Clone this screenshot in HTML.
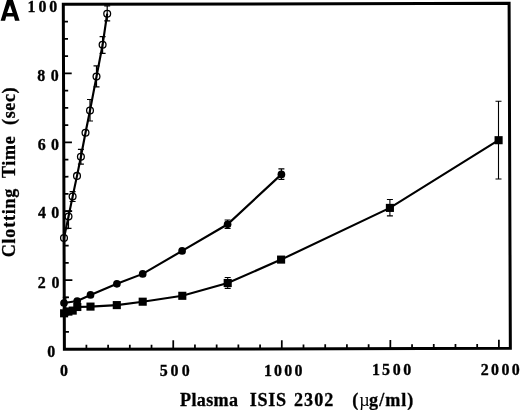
<!DOCTYPE html>
<html><head><meta charset="utf-8"><style>
html,body{margin:0;padding:0;background:#fff;}
body{width:520px;height:410px;overflow:hidden;}
svg{display:block;will-change:transform;}
.d{font-family:"Liberation Serif",serif;font-weight:bold;font-size:16.8px;fill:#000;stroke:#000;stroke-width:0.35px;}
.t{font-family:"Liberation Serif",serif;font-weight:bold;font-size:18.1px;fill:#000;stroke:#000;stroke-width:0.3px;}
.tr{font-family:"Liberation Serif",serif;font-weight:normal;font-size:18.1px;fill:#000;}
</style></head><body>
<svg width="520" height="410" viewBox="0 0 520 410">

<path d="M0.6,20.7 L7.3,-1 L12.6,-1 L19.6,20.7 L15.0,20.7 L13.9,16.4 L6.2,16.4 L5.1,20.7 Z M7.1,13.0 L12.7,13.0 L10.0,4.9 Z" fill="#000" fill-rule="evenodd"/>
<path d="M63.3,4.35 L509.1,3.3 L510.35,348.35 L64.4,349.3 Z" fill="none" stroke="#000" stroke-width="3" stroke-linejoin="miter"/>
<path d="M64.34,331.77l4.6,-0.011 M64.29,314.55l4.6,-0.011 M64.23,297.32l4.6,-0.011 M64.18,280.10l8.2,-0.020 M64.12,262.88l4.6,-0.011 M64.07,245.65l4.6,-0.011 M64.01,228.43l4.6,-0.011 M63.96,211.20l8.2,-0.020 M63.90,193.97l4.6,-0.011 M63.85,176.75l4.6,-0.011 M63.79,159.53l4.6,-0.011 M63.74,142.30l8.2,-0.020 M63.68,125.08l4.6,-0.011 M63.63,107.85l4.6,-0.011 M63.58,90.62l4.6,-0.011 M63.52,73.40l8.2,-0.020 M63.47,56.18l4.6,-0.011 M63.41,38.95l4.6,-0.011 M63.36,21.73l4.6,-0.011 M86.39,349.25l0.013,-4.4 M108.10,349.21l0.013,-4.4 M129.81,349.16l0.013,-4.4 M151.52,349.11l0.013,-4.4 M173.23,349.07l0.026,-8.7 M194.94,349.02l0.013,-4.4 M216.65,348.98l0.013,-4.4 M238.36,348.93l0.013,-4.4 M260.07,348.88l0.013,-4.4 M281.78,348.84l0.026,-8.7 M303.49,348.79l0.013,-4.4 M325.20,348.74l0.013,-4.4 M346.91,348.70l0.013,-4.4 M368.62,348.65l0.013,-4.4 M390.33,348.61l0.026,-8.7 M412.04,348.56l0.013,-4.4 M433.75,348.51l0.013,-4.4 M455.46,348.47l0.013,-4.4 M477.17,348.42l0.013,-4.4 M498.88,348.37l0.026,-8.7" stroke="#000" stroke-width="1.75" fill="none"/>
<text x="0" y="0" transform="translate(27.62,12.00) scale(0.95,1)" class="d">1</text>
<text x="0" y="0" transform="translate(38.49,12.00) scale(0.95,1)" class="d">0</text>
<text x="0" y="0" transform="translate(49.29,12.00) scale(0.95,1)" class="d">0</text>
<text x="0" y="0" transform="translate(37.27,81.00) scale(0.95,1)" class="d">8</text>
<text x="0" y="0" transform="translate(50.69,81.00) scale(0.95,1)" class="d">0</text>
<text x="0" y="0" transform="translate(37.65,150.10) scale(0.95,1)" class="d">6</text>
<text x="0" y="0" transform="translate(51.09,150.10) scale(0.95,1)" class="d">0</text>
<text x="0" y="0" transform="translate(37.98,218.40) scale(0.95,1)" class="d">4</text>
<text x="0" y="0" transform="translate(51.19,218.40) scale(0.95,1)" class="d">0</text>
<text x="0" y="0" transform="translate(37.83,287.80) scale(0.95,1)" class="d">2</text>
<text x="0" y="0" transform="translate(51.49,287.80) scale(0.95,1)" class="d">0</text>
<text x="0" y="0" transform="translate(47.29,356.90) scale(0.95,1)" class="d">0</text>
<text x="0" y="0" transform="translate(59.99,375.90) scale(0.95,1)" class="d">0</text>
<text x="0" y="0" transform="translate(159.76,375.60) scale(0.95,1)" class="d">5</text>
<text x="0" y="0" transform="translate(170.59,375.60) scale(0.95,1)" class="d">0</text>
<text x="0" y="0" transform="translate(181.69,375.60) scale(0.95,1)" class="d">0</text>
<text x="0" y="0" transform="translate(264.12,375.50) scale(0.95,1)" class="d">1</text>
<text x="0" y="0" transform="translate(274.09,375.50) scale(0.95,1)" class="d">0</text>
<text x="0" y="0" transform="translate(284.19,375.50) scale(0.95,1)" class="d">0</text>
<text x="0" y="0" transform="translate(294.39,375.50) scale(0.95,1)" class="d">0</text>
<text x="0" y="0" transform="translate(372.12,375.30) scale(0.95,1)" class="d">1</text>
<text x="0" y="0" transform="translate(382.06,375.30) scale(0.95,1)" class="d">5</text>
<text x="0" y="0" transform="translate(392.69,375.30) scale(0.95,1)" class="d">0</text>
<text x="0" y="0" transform="translate(403.19,375.30) scale(0.95,1)" class="d">0</text>
<text x="0" y="0" transform="translate(480.83,375.20) scale(0.95,1)" class="d">2</text>
<text x="0" y="0" transform="translate(491.09,375.20) scale(0.95,1)" class="d">0</text>
<text x="0" y="0" transform="translate(501.59,375.20) scale(0.95,1)" class="d">0</text>
<text x="0" y="0" transform="translate(511.79,375.20) scale(0.95,1)" class="d">0</text>
<text x="180.09" y="405.60" class="t" letter-spacing="0.335">Plasma</text>
<text x="249.79" y="405.60" class="t" letter-spacing="0.686">ISIS</text>
<text x="294.04" y="405.60" class="t" letter-spacing="1.013">2302</text>
<text x="352.20" y="405.60" class="t">(</text>
<text x="359.29" y="405.60" class="tr">µ</text>
<text x="369.12" y="405.60" class="t" letter-spacing="0.990">g/ml)</text>
<g transform="translate(14.5,0) rotate(-90)">
<text x="-257.28" y="0.00" class="t" letter-spacing="0.759">Clotting</text>
<text x="-178.08" y="0.00" class="t" letter-spacing="0.646">Time</text>
<text x="-125.00" y="0.00" class="t" letter-spacing="0.606">(sec)</text>
</g>
<polyline points="64.0,238.0 68.5,216.6 72.6,196.6 77,175.9 80.9,156.7 85.5,132.7 90,110.5 96.5,76.6 102.6,44.8 107.2,13.7" fill="none" stroke="#000" stroke-width="2.15"/>
<path d="M107.2,5.9V20.8 M104.2,5.9h6 M104.2,20.8h6 M102.6,36.6V53.4 M99.6,36.6h6 M99.6,53.4h6 M96.5,65.9V86.8 M93.5,65.9h6 M93.5,86.8h6 M90,99.5V121 M87.0,99.5h6 M87.0,121h6 M80.9,149.3V164.1 M77.9,149.3h6 M77.9,164.1h6 M72.6,191.7V201.5 M69.6,191.7h6 M69.6,201.5h6 M68.5,211.2V228.3 M65.5,211.2h6 M65.5,228.3h6" stroke="#000" stroke-width="1.2" fill="none"/>
<circle cx="64.0" cy="238.0" r="3.4" fill="none" stroke="#000" stroke-width="1.3"/>
<circle cx="68.5" cy="216.6" r="3.4" fill="none" stroke="#000" stroke-width="1.3"/>
<circle cx="72.6" cy="196.6" r="3.4" fill="none" stroke="#000" stroke-width="1.3"/>
<circle cx="77" cy="175.9" r="3.4" fill="none" stroke="#000" stroke-width="1.3"/>
<circle cx="80.9" cy="156.7" r="3.4" fill="none" stroke="#000" stroke-width="1.3"/>
<circle cx="85.5" cy="132.7" r="3.4" fill="none" stroke="#000" stroke-width="1.3"/>
<circle cx="90" cy="110.5" r="3.4" fill="none" stroke="#000" stroke-width="1.3"/>
<circle cx="96.5" cy="76.6" r="3.4" fill="none" stroke="#000" stroke-width="1.3"/>
<circle cx="102.6" cy="44.8" r="3.4" fill="none" stroke="#000" stroke-width="1.3"/>
<circle cx="107.2" cy="13.7" r="3.4" fill="none" stroke="#000" stroke-width="1.3"/>
<polyline points="64,303 77.2,301 90.5,294.9 116.9,283.8 142.7,273.9 182.1,250.9 227.6,224.3 281.4,174.4" fill="none" stroke="#000" stroke-width="2.15"/>
<path d="M65.8,297.3V308.3 M62.8,297.3h6 M62.8,308.3h6 M227.6,220V228.5 M224.6,220h6 M224.6,228.5h6 M281.4,168.8V179.3 M278.4,168.8h6 M278.4,179.3h6" stroke="#000" stroke-width="1.2" fill="none"/>
<circle cx="64" cy="303" r="3.85" fill="#000"/>
<circle cx="77.2" cy="301" r="3.85" fill="#000"/>
<circle cx="90.5" cy="294.9" r="3.85" fill="#000"/>
<circle cx="116.9" cy="283.8" r="3.85" fill="#000"/>
<circle cx="142.7" cy="273.9" r="3.85" fill="#000"/>
<circle cx="182.1" cy="250.9" r="3.85" fill="#000"/>
<circle cx="227.6" cy="224.3" r="3.85" fill="#000"/>
<circle cx="281.4" cy="174.4" r="3.85" fill="#000"/>
<polyline points="64.1,313.3 68.4,311.6 72.7,310.6 77.3,307 90.5,306.6 116.8,305.1 142.7,301.7 182.3,295.8 227.7,283 281.1,259.6 389.9,207.9 498.6,140.2" fill="none" stroke="#000" stroke-width="2.15"/>
<path d="M227.7,277.5V288.4 M224.7,277.5h6 M224.7,288.4h6 M389.9,199.5V215.9 M386.9,199.5h6 M386.9,215.9h6 M498.5,101.2V179 M495.5,101.2h6 M495.5,179h6" stroke="#000" stroke-width="1.1" fill="none"/>
<rect x="60.05" y="309.25" width="8.1" height="8.1" fill="#000"/>
<rect x="64.35" y="307.55" width="8.1" height="8.1" fill="#000"/>
<rect x="68.65" y="306.55" width="8.1" height="8.1" fill="#000"/>
<rect x="73.25" y="302.95" width="8.1" height="8.1" fill="#000"/>
<rect x="86.45" y="302.55" width="8.1" height="8.1" fill="#000"/>
<rect x="112.75" y="301.05" width="8.1" height="8.1" fill="#000"/>
<rect x="138.65" y="297.65" width="8.1" height="8.1" fill="#000"/>
<rect x="178.25" y="291.75" width="8.1" height="8.1" fill="#000"/>
<rect x="223.65" y="278.95" width="8.1" height="8.1" fill="#000"/>
<rect x="277.05" y="255.55" width="8.1" height="8.1" fill="#000"/>
<rect x="385.85" y="203.85" width="8.1" height="8.1" fill="#000"/>
<rect x="494.55" y="136.15" width="8.1" height="8.1" fill="#000"/>
</svg></body></html>
